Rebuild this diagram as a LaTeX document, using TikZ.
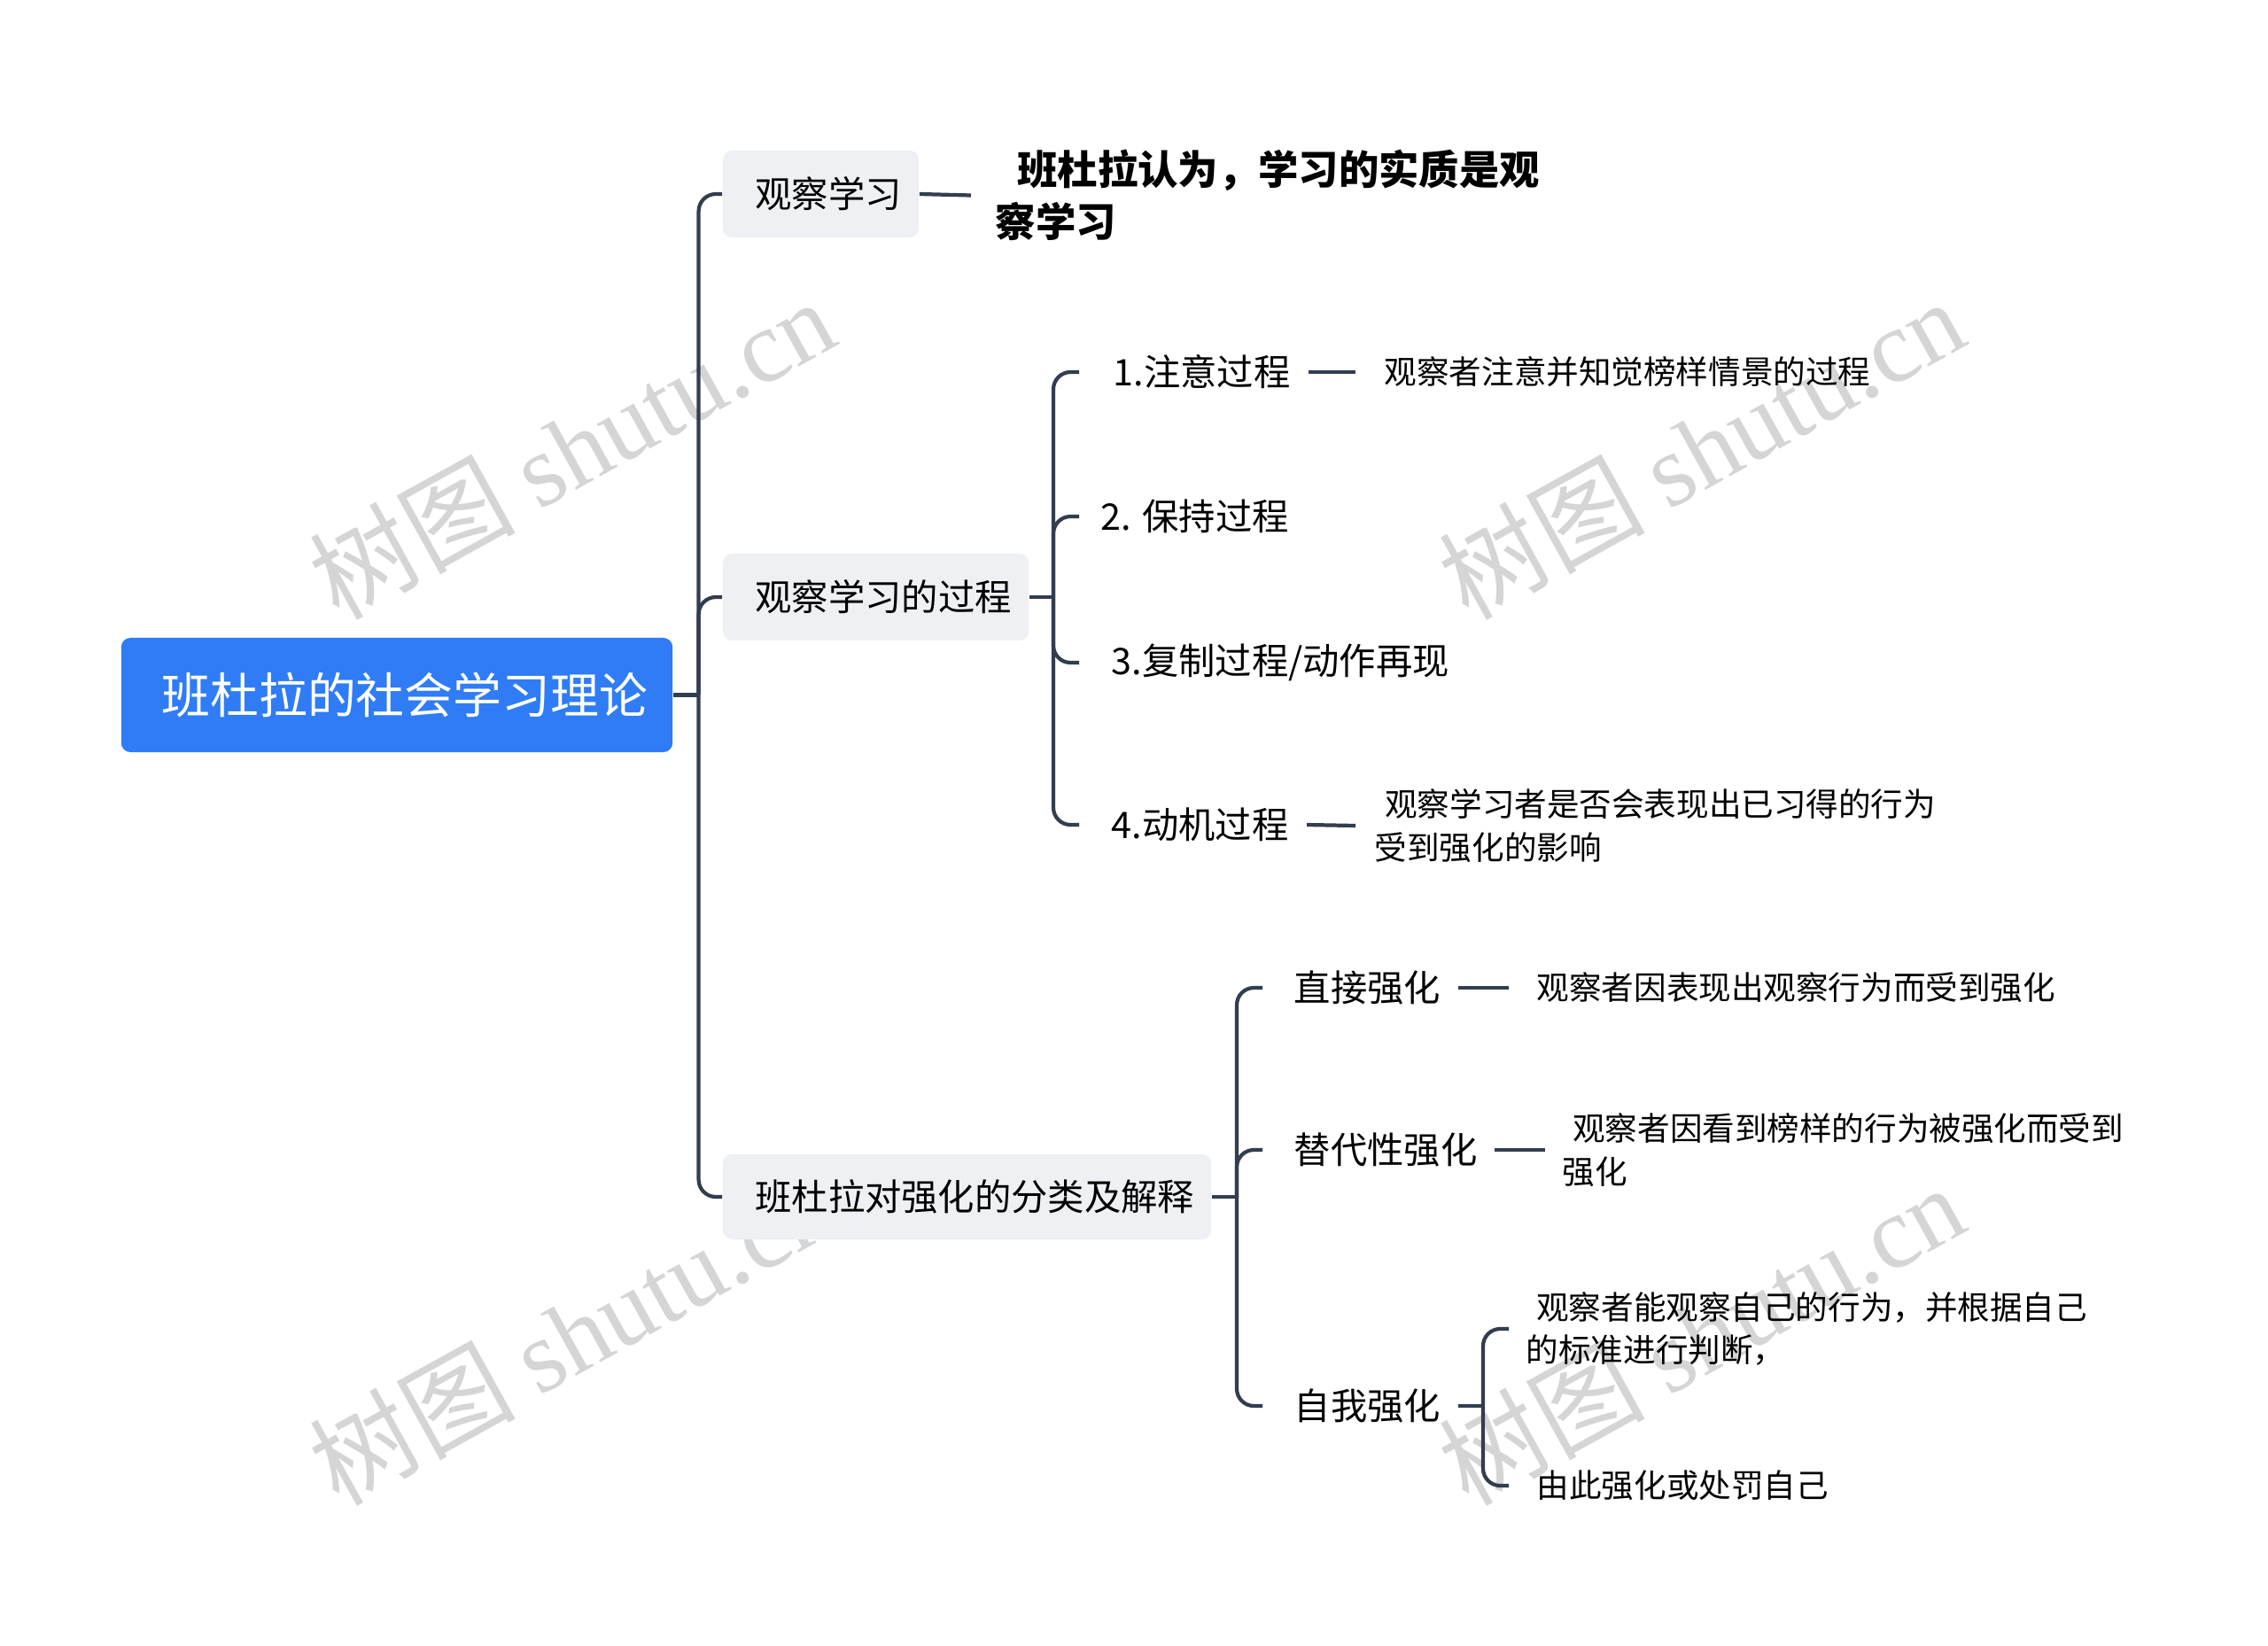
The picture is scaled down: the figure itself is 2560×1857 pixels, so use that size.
\documentclass[tikz,border=0pt]{standalone}
\usepackage{fontspec}
\setmainfont{Noto Sans CJK SC}
\newfontfamily\wmserif{Liberation Serif}
\usetikzlibrary{calc}
\newcommand\myfs[2]{\fontsize{#1pt}{#2pt}\selectfont}
\definecolor{lc}{HTML}{323E4F}
\definecolor{rootblue}{HTML}{2F7CF6}
\definecolor{boxgray}{HTML}{EEF0F3}
\definecolor{wmgray}{HTML}{D5D5D5}
\tikzset{
  conn/.style={draw=lc, line width=1.2pt, rounded corners=5.5pt},
  rootbox/.style={fill=rootblue, rounded corners=3pt, text=white, font=\myfs{15.6}{18},
    minimum width=177pt, minimum height=36.7pt, inner sep=0pt},
  lvone/.style={fill=boxgray, rounded corners=3pt, font=\myfs{11.75}{14},
    minimum height=27.9pt, inner sep=0pt},
  lvtwo/.style={anchor=west, inner sep=0pt, font=\myfs{11.75}{14}},
  leaf/.style={anchor=west, inner sep=0pt, font=\myfs{10.4}{13.9}, align=left},
  boldleaf/.style={anchor=west, inner sep=0pt, font=\myfs{12.9}{16.7}\bfseries, align=left},
  wm/.style={text=wmgray, inner sep=0pt, font=\myfs{33}{38}, rotate=29},
}
\begin{document}
\begin{tikzpicture}[x=0.01cm,y=-0.01cm]
\useasboundingbox[fill=white] (0,0) rectangle (2560,1857);

% watermarks
\node[wm] (wm1) at (645,506) {树图 {\wmserif shutu.cn}};
\node[wm] (wm2) at (1920,506) {树图 {\wmserif shutu.cn}};
\node[wm] (wm3) at (645,1506) {树图 {\wmserif shutu.cn}};
\node[wm] (wm4) at (1920,1506) {树图 {\wmserif shutu.cn}};

% root
\node[rootbox] (root) at (448,784.5) {\hspace*{5pt}班杜拉的社会学习理论};

% level 1
\node[lvone, minimum width=62.9pt] (b1) at (926.5,219) {\hspace*{5pt}观察学习};
\node[lvone, minimum width=98.2pt] (b2) at (988.5,674) {\hspace*{5pt}观察学习的过程};
\node[lvone, minimum width=156.8pt, minimum height=27.3pt] (b3) at (1091.5,1351) {\hspace*{5pt}班杜拉对强化的分类及解释};

\coordinate (j1) at (788.6,784.5);
\draw[conn] (root.east) -- (j1);
\draw[conn] (j1) |- (b1.west);
\draw[conn] (j1) |- (b2.west);
\draw[conn] (j1) |- (b3.west);

% leaf of b1
\node[boldleaf] (a1) at (1123,220.5) {\hspace*{7pt}班杜拉认为，学习的实质是观\\察学习};
\draw[conn] (b1.east) -- ($(a1.west)+(-27,0)$);

% level 2 under b2
\node[lvtwo] (p1) at (1256,420) {1.注意过程};
\node[lvtwo] (p2) at (1242,583) {2. 保持过程};
\node[lvtwo] (p3) at (1254,748) {3.复制过程/动作再现};
\node[lvtwo] (p4) at (1254,931) {4.动机过程};
\coordinate (j2) at (1189,674);
\coordinate (e2) at (1218,0);
\draw[conn] (b2.east) -- (j2);
\draw[conn] (j2) |- (e2 |- p1.west);
\draw[conn] (j2) |- (e2 |- p2.west);
\draw[conn] (j2) |- (e2 |- p3.west);
\draw[conn] (j2) |- (e2 |- p4.west);

\node[leaf] (l1) at (1562,420) {观察者注意并知觉榜样情景的过程};
\node[leaf] (l4) at (1551,932) {\hspace*{3.3pt}观察学习者是否会表现出已习得的行为\\受到强化的影响};
\draw[conn] ($(p1.east)+(20,0)$) -- ($(l1.west)+(-32,0)$);
\draw[conn] ($(p4.east)+(20,0)$) -- ($(l4.west)+(-21,0)$);

% level 2 under b3
\node[lvtwo] (r1) at (1460,1115) {直接强化};
\node[lvtwo] (r2) at (1460,1298) {替代性强化};
\node[lvtwo] (r3) at (1460,1587) {自我强化};
\coordinate (j3) at (1396,1351);
\coordinate (e3) at (1425,0);
\draw[conn] (b3.east) -- (j3);
\draw[conn] (j3) |- (e3 |- r1.west);
\draw[conn] (j3) |- (e3 |- r2.west);
\draw[conn] (j3) |- (e3 |- r3.west);

\node[leaf] (m1) at (1734,1115) {观察者因表现出观察行为而受到强化};
\node[leaf] (m2) at (1763,1298) {\hspace*{3.3pt}观察者因看到榜样的行为被强化而受到\\强化};
\draw[conn] ($(r1.east)+(19,0)$) -- ($(m1.west)+(-31,0)$);
\draw[conn] ($(r2.east)+(19,0)$) -- ($(m2.west)+(-19,0)$);

% self reinforcement
\node[leaf] (s1) at (1722,1500) {\hspace*{3.3pt}观察者能观察自己的行为，并根据自己\\的标准进行判断，};
\node[leaf] (s2) at (1734,1677) {由此强化或处罚自己};
\coordinate (j4) at (1674,1587);
\coordinate (e4) at (1703,0);
\draw[conn] ($(r3.east)+(19,0)$) -- (j4);
\draw[conn] (j4) |- (e4 |- s1.west);
\draw[conn] (j4) |- (e4 |- s2.west);
\end{tikzpicture}
\end{document}
